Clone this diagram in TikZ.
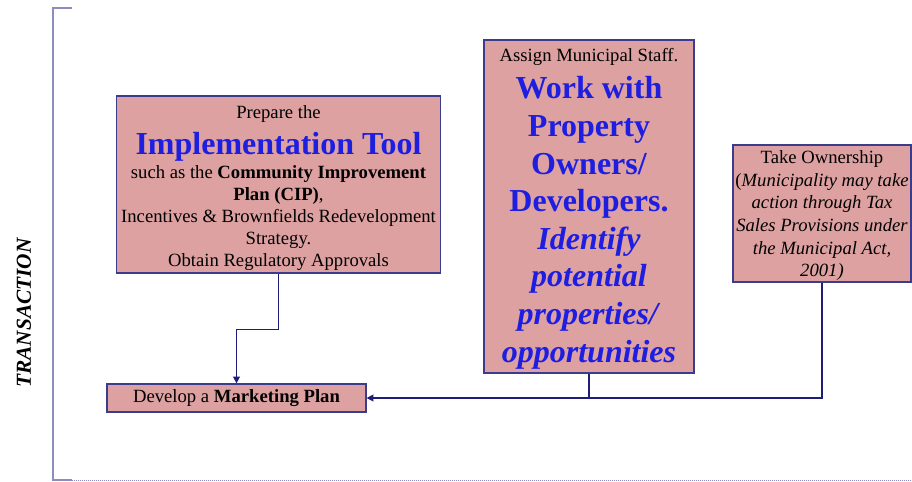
\documentclass[tikz,border=0pt]{standalone}
\usepackage{fontspec}
\setmainfont{Liberation Serif}
\usetikzlibrary{arrows.meta}

\definecolor{boxfill}{RGB}{221,161,161}
\definecolor{boxline}{RGB}{60,60,140}
\definecolor{linkline}{RGB}{30,30,120}
\definecolor{textblue}{RGB}{30,30,225}
\definecolor{bracketline}{RGB}{140,140,190}

\begin{document}
\begin{tikzpicture}
[%%%%%%%%%%%%%%%%%%%%%%%%%%%%%%
x=0.75pt,y=-0.75pt,
box/.style={rectangle,draw=boxline,line width=0.9pt,fill=boxfill,inner sep=0pt,align=center,font=\fontsize{14}{16.5}\selectfont},
link/.style={draw=linkline,line width=1pt},
bracket/.style={draw=bracketline,line width=1.5pt},
]%%%%%%%%%%%%%%%%%%%%%%%%%%%%%%

\useasboundingbox (0,0) rectangle (912,481);

\draw[bracket] (72,8) -- (53,8) -- (53,480) -- (72,480);
\draw[draw=bracketline,line width=0.75pt,dash pattern=on 0.75pt off 0.75pt] (72,480) -- (912,480);

\node[rotate=90,font=\fontsize{16}{19}\selectfont\bfseries\itshape] (phase) at (24,313) {TRANSACTION};

\node[box,minimum width=243pt,minimum height=132.75pt] (tool) at (278.5,184.5)
{\rule{0pt}{15pt}Prepare the\\[6.7pt]
{\fontsize{24}{28}\selectfont\bfseries\color{textblue}Implementation Tool}\\[1.5pt]
such as the \textbf{Community Improvement}\\
\textbf{Plan (CIP)},\\
Incentives \& Brownfields Redevelopment\\
Strategy.\\
Obtain Regulatory Approvals};

\node[box,minimum width=157.5pt,minimum height=249.75pt,text=textblue,font=\fontsize{24}{28.2}\selectfont\bfseries] (staff) at (589,206.5)
{{\fontsize{14}{16.5}\selectfont\mdseries\color{black}\rule{0pt}{13pt}Assign Municipal Staff.}\\
Work with\\
Property\\
Owners/\\
Developers.\\
\textit{Identify}\\
\textit{potential}\\
\textit{properties/}\\
\textit{opportunities}};

\node[box,minimum width=133.5pt,minimum height=102.75pt,font=\fontsize{14}{17}\selectfont] (owner) at (822,213.5)
{\rule{0pt}{13pt}Take Ownership\\
(\textit{Municipality may take}\\
\textit{action through Tax}\\
\textit{Sales Provisions under}\\
\textit{the Municipal Act,}\\
\textit{2001)}};

\node[box,minimum width=194.25pt,minimum height=21pt] (market) at (236.5,398)
{Develop a \textbf{Marketing Plan}};

% links into the marketing plan
\draw[link,-{Triangle[length=5pt,width=5pt]}] (tool.south) -- ++(0,56) -| (market.north);
\draw[link,-{Triangle[length=5pt,width=5pt]}] (staff.south) |- (market.east);
\draw[link] (owner.south) |- (staff.south |- market.east);
\end{tikzpicture}
\end{document}
